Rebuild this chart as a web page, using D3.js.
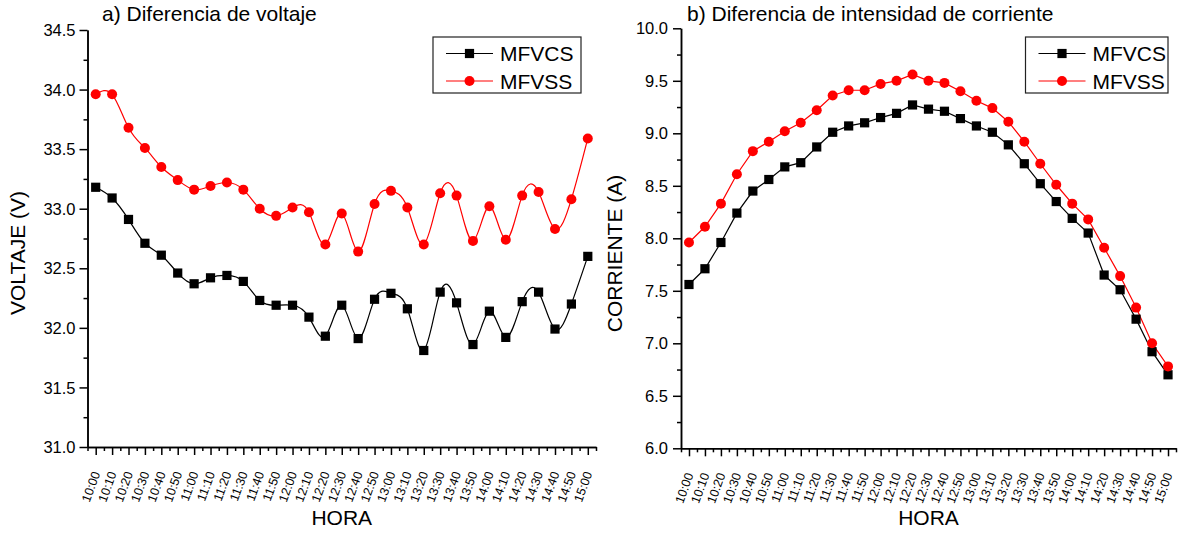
<!DOCTYPE html>
<html>
<head>
<meta charset="utf-8">
<script src="https://cdn.jsdelivr.net/npm/d3@7"></script>
<style>
  body { margin: 0; background: #fff; }
  svg { display: block; font-family: "Liberation Sans", Arial, sans-serif; }
  .axis .domain, .axis .tick line { stroke: #000; stroke-width: 1.5; }
  .axis text { fill: #000; }
</style>
</head>
<body>
<svg id="chart" width="1179" height="535"></svg>
<script>
// Hora de medición (cada 10 minutos)
const horas = [
  "10:00", "10:10", "10:20", "10:30", "10:40", "10:50",
  "11:00", "11:10", "11:20", "11:30", "11:40", "11:50",
  "12:00", "12:10", "12:20", "12:30", "12:40", "12:50",
  "13:00", "13:10", "13:20", "13:30", "13:40", "13:50",
  "14:00", "14:10", "14:20", "14:30", "14:40", "14:50",
  "15:00"
];

// a) Voltaje (V)
const voltajeMFVCS = [
  33.18, 33.09, 32.91, 32.71, 32.61, 32.46, 32.37, 32.42, 32.44, 32.39,
  32.23, 32.19, 32.19, 32.09, 31.93, 32.19, 31.91, 32.24, 32.29, 32.16,
  31.81, 32.30, 32.21, 31.86, 32.14, 31.92, 32.22, 32.30, 31.99, 32.20,
  32.60
];
const voltajeMFVSS = [
  33.96, 33.96, 33.68, 33.51, 33.35, 33.24, 33.16, 33.19, 33.22, 33.16,
  33.00, 32.94, 33.01, 32.97, 32.70, 32.96, 32.64, 33.04, 33.15, 33.01,
  32.70, 33.13, 33.11, 32.73, 33.02, 32.74, 33.11, 33.14, 32.83, 33.08,
  33.59
];

// b) Corriente (A)
const corrienteMFVCS = [
  7.56, 7.71, 7.96, 8.24, 8.45, 8.56, 8.68, 8.72, 8.87, 9.01,
  9.07, 9.10, 9.15, 9.19, 9.27, 9.23, 9.21, 9.14, 9.07, 9.01,
  8.89, 8.71, 8.52, 8.35, 8.19, 8.05, 7.65, 7.51, 7.23, 6.92,
  6.70
];
const corrienteMFVSS = [
  7.96, 8.11, 8.33, 8.61, 8.83, 8.92, 9.02, 9.10, 9.22, 9.36,
  9.41, 9.41, 9.47, 9.50, 9.56, 9.50, 9.48, 9.40, 9.31, 9.24,
  9.11, 8.92, 8.71, 8.51, 8.33, 8.18, 7.91, 7.64, 7.34, 7.00,
  6.78
];

const voltajeTicks = [31.0, 31.5, 32.0, 32.5, 33.0, 33.5, 34.0, 34.5];
const corrienteTicks = [6.0, 6.5, 7.0, 7.5, 8.0, 8.5, 9.0, 9.5, 10.0];
const seriesNames = ["MFVCS", "MFVSS"];
const seriesColors = ["#000000", "#ff0000"];

const svg = d3.select("#chart");

function drawPanel(o) {
  const g = svg.append("g");
  const n = horas.length;
  const x = d3.scaleLinear().domain([-0.5, n - 0.5]).range([o.left, o.right]);
  const y = d3.scaleLinear().domain([o.ticks[0], o.ticks[o.ticks.length - 1]]).range([o.bottom, o.top]);

  // eje Y: marcas menores y mayores
  const minorY = o.ticks.slice(1).map((t, i) => (t + o.ticks[i]) / 2);
  g.append("g").attr("class", "axis")
    .attr("transform", `translate(${o.left},0)`)
    .call(d3.axisLeft(y).tickValues(minorY).tickSize(4).tickSizeOuter(0).tickFormat(""));
  const ya = g.append("g").attr("class", "axis")
    .attr("transform", `translate(${o.left},0)`)
    .call(d3.axisLeft(y).tickValues(o.ticks).tickSize(8).tickSizeOuter(0)
      .tickPadding(o.yPad).tickFormat(d3.format(".1f")));
  ya.selectAll("text").style("font-size", "16.5px").attr("dy", "0.34em");

  // eje X: marcas menores entre horas y mayores en cada hora
  g.append("g").attr("class", "axis")
    .attr("transform", `translate(0,${o.bottom})`)
    .call(d3.axisBottom(x).tickValues(d3.range(-0.5, n, 1)).tickSize(4).tickSizeOuter(0).tickFormat(""));
  const xa = g.append("g").attr("class", "axis")
    .attr("transform", `translate(0,${o.bottom})`)
    .call(d3.axisBottom(x).tickValues(d3.range(n)).tickSize(8).tickSizeOuter(0)
      .tickFormat(i => horas[i]));
  xa.selectAll("text")
    .style("font-size", "12.5px")
    .attr("text-anchor", "end")
    .attr("x", 0).attr("y", 0).attr("dy", "0.35em")
    .attr("transform", "translate(0,25) rotate(-70)");

  // títulos de ejes
  g.append("text")
    .attr("transform", `translate(${o.ylabelX},${o.ylabelY}) rotate(-90)`)
    .attr("text-anchor", "middle")
    .style("font-size", "21px")
    .text(o.ylabel);
  g.append("text")
    .attr("x", (o.left + o.right) / 2).attr("y", 525)
    .attr("text-anchor", "middle")
    .style("font-size", "21px")
    .text("HORA");
  g.append("text")
    .attr("x", o.titleX).attr("y", 21)
    .style("font-size", "21px")
    .text(o.title);

  // series
  const line = d3.line().x((d, i) => x(i)).y(d => y(d)).curve(o.curve);
  o.series.forEach((vals, k) => {
    g.append("path")
      .attr("d", line(vals))
      .attr("fill", "none")
      .attr("stroke", seriesColors[k])
      .attr("stroke-width", 1.2);
  });
  o.series.forEach((vals, k) => {
    const pts = g.append("g");
    vals.forEach((v, i) => drawMarker(pts, k, x(i), y(v)));
  });

  // leyenda
  const lg = g.append("g").attr("transform", `translate(${o.legendX},37)`);
  lg.append("rect")
    .attr("width", o.legendW).attr("height", 56)
    .attr("fill", "#fff").attr("stroke", "#222").attr("stroke-width", 1.2);
  seriesNames.forEach((name, k) => {
    const cy = 16.5 + k * 27.5;
    lg.append("line")
      .attr("x1", 13).attr("x2", 60).attr("y1", cy).attr("y2", cy)
      .attr("stroke", seriesColors[k]).attr("stroke-width", 1.2);
    drawMarker(lg, k, 36.5, cy);
    lg.append("text")
      .attr("x", 67).attr("y", cy + 7.6)
      .style("font-size", "21px")
      .text(name);
  });
}

function drawMarker(sel, k, cx, cy) {
  if (k === 0) {
    sel.append("rect")
      .attr("x", cx - 4.6).attr("y", cy - 4.6)
      .attr("width", 9.2).attr("height", 9.2)
      .attr("fill", "#000");
  } else {
    sel.append("circle")
      .attr("cx", cx).attr("cy", cy).attr("r", 5)
      .attr("fill", "#ff0000");
  }
}

drawPanel({
  left: 87.5, right: 596, top: 30, bottom: 447,
  ticks: voltajeTicks, yPad: 4,
  title: "a) Diferencia de voltaje", titleX: 102,
  ylabel: "VOLTAJE (V)", ylabelX: 25, ylabelY: 253,
  series: [voltajeMFVCS, voltajeMFVSS],
  curve: d3.curveNatural,
  legendX: 433, legendW: 148
});

drawPanel({
  left: 681, right: 1176, top: 28.3, bottom: 448.3,
  ticks: corrienteTicks, yPad: 5,
  title: "b) Diferencia de intensidad de corriente", titleX: 687,
  ylabel: "CORRIENTE (A)", ylabelX: 622, ylabelY: 253.5,
  series: [corrienteMFVCS, corrienteMFVSS],
  curve: d3.curveLinear,
  legendX: 1025.5, legendW: 142.5
});
</script>
</body>
</html>
